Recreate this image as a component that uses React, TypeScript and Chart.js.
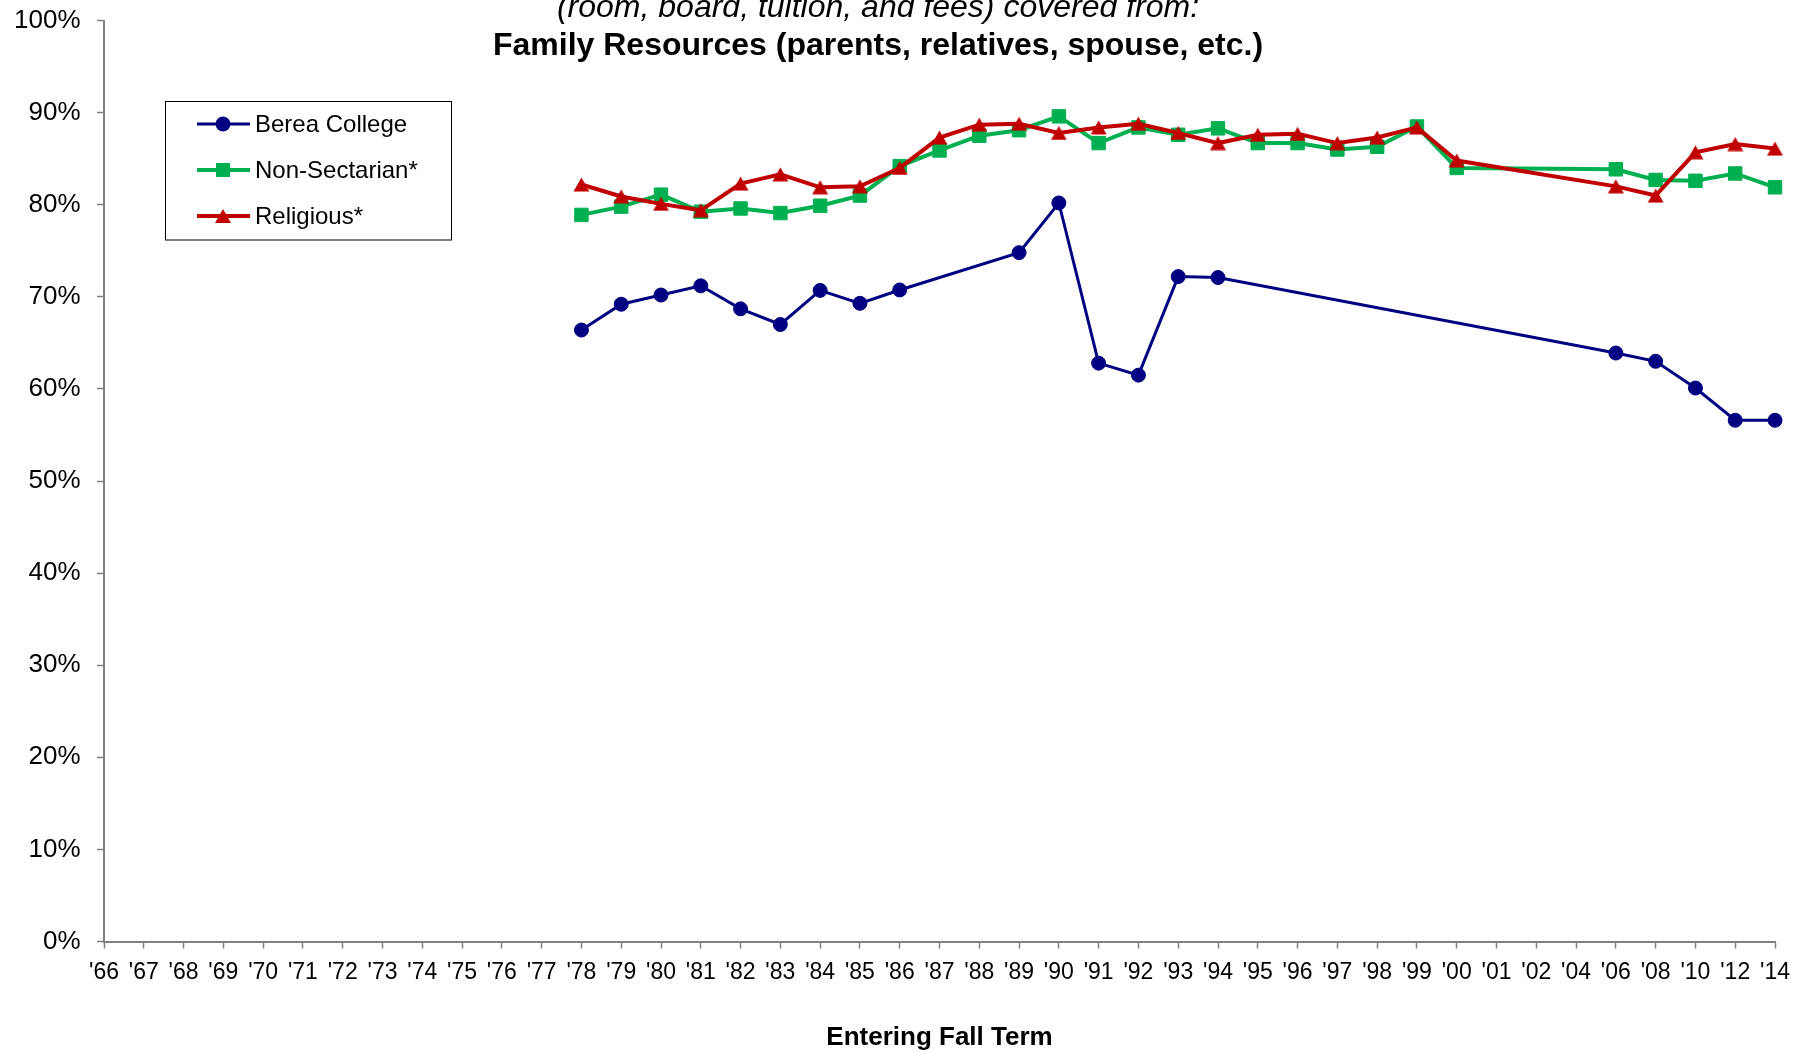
import React, { useEffect, useRef } from 'react';
import { Chart, registerables } from 'chart.js';

Chart.register(...registerables);

const categories = [
  "'66", "'67", "'68", "'69", "'70", "'71", "'72", "'73", "'74", "'75",
  "'76", "'77", "'78", "'79", "'80", "'81", "'82", "'83", "'84", "'85",
  "'86", "'87", "'88", "'89", "'90", "'91", "'92", "'93", "'94", "'95",
  "'96", "'97", "'98", "'99", "'00", "'01", "'02", "'04", "'06", "'08",
  "'10", "'12", "'14",
];

const leading = [null, null, null, null, null, null, null, null, null, null, null, null];

// '78 ... '14
const bereaCollege = [
  ...leading,
  66.4, 69.2, 70.2, 71.2, 68.7, 67.0, 70.7, 69.3, 70.75,
  null, null,
  74.8, 80.2, 62.8, 61.5, 72.2, 72.1,
  null, null, null, null, null, null, null, null, null,
  63.9, 63.0, 60.1, 56.6, 56.6,
];

const nonSectarian = [
  ...leading,
  78.9, 79.8, 81.1, 79.25, 79.6, 79.1, 79.9, 81.0, 84.2,
  85.9, 87.5,
  88.1, 89.6, 86.7, 88.4, 87.6, 88.3,
  86.7, 86.7, 86.0, 86.3, 88.5, 84.0, null, null, null,
  83.85, 82.7, 82.6, 83.4, 81.9,
];

const religious = [
  ...leading,
  82.2, 80.9, 80.1, 79.4, 82.3, 83.3, 81.9, 82.0, 84.0,
  87.3, 88.7,
  88.8, 87.8, 88.4, 88.8, 87.8, 86.7,
  87.6, 87.7, 86.7, 87.3, 88.4, 84.8, null, null, null,
  82.0, 81.0, 85.7, 86.6, 86.1,
];

const seriesNames = ['Berea College', 'Non-Sectarian*', 'Religious*'];
const seriesColors = ['#000080', '#00B050', '#C00000'];

const yTicks = [0, 10, 20, 30, 40, 50, 60, 70, 80, 90, 100];

const titleLine1 = '(room, board, tuition, and fees) covered from:';
const titleLine2 = 'Family Resources (parents, relatives, spouse, etc.)';
const xAxisTitle = 'Entering Fall Term';

const FONT = '"Liberation Sans", Arial, Helvetica, sans-serif';

function makeTriangle(color: string): HTMLCanvasElement {
  const c = document.createElement('canvas');
  c.width = 17;
  c.height = 15;
  const g = c.getContext('2d')!;
  g.fillStyle = color;
  g.beginPath();
  g.moveTo(8.5, 0.5);
  g.lineTo(16.5, 14.5);
  g.lineTo(0.5, 14.5);
  g.closePath();
  g.fill();
  return c;
}

function drawMarker(ctx: CanvasRenderingContext2D, style: string, x: number, y: number, color: string) {
  ctx.fillStyle = color;
  ctx.beginPath();
  if (style === 'circle') {
    ctx.arc(x, y, 7.5, 0, Math.PI * 2);
  } else if (style === 'rect') {
    ctx.rect(x - 7, y - 7, 14, 14);
  } else {
    ctx.moveTo(x, y - 7);
    ctx.lineTo(x + 8, y + 7);
    ctx.lineTo(x - 8, y + 7);
    ctx.closePath();
  }
  ctx.fill();
}

const overlayPlugin = {
  id: 'overlay',
  afterDraw(chart: any) {
    const ctx: CanvasRenderingContext2D = chart.ctx;
    ctx.save();
    // Title
    ctx.fillStyle = '#000';
    ctx.textAlign = 'center';
    ctx.textBaseline = 'alphabetic';
    ctx.font = `italic 32px ${FONT}`;
    ctx.fillText(titleLine1, 878, 17);
    ctx.font = `bold 32px ${FONT}`;
    ctx.fillText(titleLine2, 878, 55);

    // Legend
    const bx = 165.5, by = 101.5, bw = 286, bh = 138.5;
    ctx.fillStyle = '#fff';
    ctx.fillRect(bx, by, bw, bh);
    ctx.strokeStyle = '#000';
    ctx.lineWidth = 1;
    ctx.strokeRect(bx, by, bw, bh);
    const rows = [124, 170, 216];
    const styles = ['circle', 'rect', 'triangle'];
    const widths = [3, 4, 4];
    seriesNames.forEach((name, i) => {
      const y = rows[i];
      ctx.strokeStyle = seriesColors[i];
      ctx.lineWidth = widths[i];
      ctx.beginPath();
      ctx.moveTo(197, y);
      ctx.lineTo(250, y);
      ctx.stroke();
      drawMarker(ctx, styles[i], 223, y, seriesColors[i]);
      ctx.fillStyle = '#000';
      ctx.font = `24px ${FONT}`;
      ctx.textAlign = 'left';
      ctx.textBaseline = 'middle';
      ctx.fillText(name, 255, y + 1);
    });
    ctx.restore();
  },
};

export default function App() {
  const canvasRef = useRef<HTMLCanvasElement | null>(null);

  useEffect(() => {
    const canvas = canvasRef.current;
    if (!canvas) return;
    Chart.defaults.font.family = FONT;
    const tri = makeTriangle(seriesColors[2]);
    const chart = new Chart(canvas, {
      type: 'line',
      data: {
        labels: categories,
        datasets: [
          {
            label: seriesNames[0],
            data: bereaCollege,
            borderColor: seriesColors[0],
            backgroundColor: seriesColors[0],
            borderWidth: 3,
            pointStyle: 'circle',
            pointRadius: 7,
            pointBorderWidth: 1,
            pointBackgroundColor: seriesColors[0],
            pointBorderColor: seriesColors[0],
            spanGaps: true,
            tension: 0,
            order: 2,
          },
          {
            label: seriesNames[1],
            data: nonSectarian,
            borderColor: seriesColors[1],
            backgroundColor: seriesColors[1],
            borderWidth: 4,
            pointStyle: 'rect',
            pointRadius: 9.5,
            pointBorderWidth: 1,
            pointBackgroundColor: seriesColors[1],
            pointBorderColor: seriesColors[1],
            spanGaps: true,
            tension: 0,
            order: 1,
          },
          {
            label: seriesNames[2],
            data: religious,
            borderColor: seriesColors[2],
            backgroundColor: seriesColors[2],
            borderWidth: 4,
            pointStyle: tri as any,
            pointRadius: 8.5,
            pointBorderWidth: 0,
            pointBackgroundColor: seriesColors[2],
            pointBorderColor: seriesColors[2],
            spanGaps: true,
            tension: 0,
            order: 0,
          },
        ],
      },
      options: {
        responsive: false,
        animation: false,
        devicePixelRatio: 1,
        layout: { padding: { left: 0, top: 20.6, right: 23, bottom: 0 } },
        plugins: {
          legend: { display: false },
          title: { display: false },
          tooltip: { enabled: false },
        },
        scales: {
          x: {
            type: 'category',
            offset: false,
            grid: {
              display: true,
              drawOnChartArea: false,
              drawTicks: true,
              tickLength: 7,
              tickColor: '#808080',
              tickWidth: 1.5,
            },
            border: { display: true, color: '#808080', width: 2 },
            ticks: {
              autoSkip: false,
              maxRotation: 0,
              minRotation: 0,
              padding: 10,
              color: '#000',
              font: { size: 23, family: FONT },
            },
            title: {
              display: true,
              text: xAxisTitle,
              color: '#000',
              font: { size: 26, weight: 'bold', family: FONT },
              padding: { top: 0, bottom: -1.5 },
            },
            afterFit: (scale: any) => {
              scale.height = 110.5;
              scale.paddingLeft = 0;
              scale.paddingRight = 0;
              scale.paddingTop = 0;
              scale.paddingBottom = 0;
            },
          },
          y: {
            min: 0,
            max: 100,
            grid: {
              display: true,
              drawOnChartArea: false,
              drawTicks: true,
              tickLength: 7,
              tickColor: '#808080',
              tickWidth: 1.5,
            },
            border: { display: true, color: '#808080', width: 2 },
            afterBuildTicks: (scale: any) => {
              scale.ticks = yTicks.map((v) => ({ value: v }));
            },
            ticks: {
              padding: 16.5,
              color: '#000',
              font: { size: 26, family: FONT },
              callback: (v: any) => `${v}%`,
            },
            afterFit: (scale: any) => {
              scale.width = 104;
              scale.paddingLeft = 0;
              scale.paddingRight = 0;
              scale.paddingTop = 0;
              scale.paddingBottom = 0;
            },
          },
        },
      },
      plugins: [overlayPlugin],
    });
    return () => chart.destroy();
  }, []);

  return (
    <div style={{ position: 'fixed', left: 0, top: 0, width: 1798, height: 1052, background: '#fff' }}>
      <canvas ref={canvasRef} width={1798} height={1052} style={{ width: 1798, height: 1052, display: 'block' }} />
    </div>
  );
}
